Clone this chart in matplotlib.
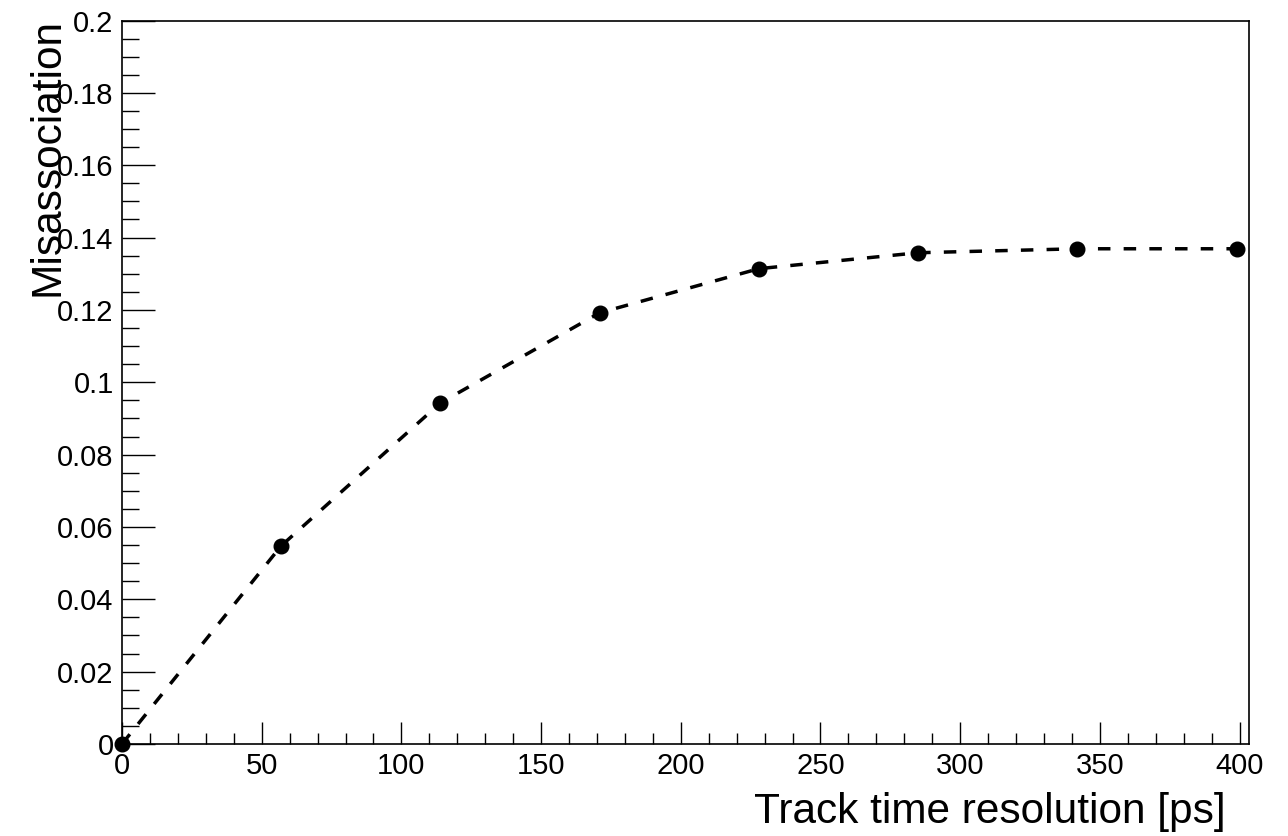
import matplotlib
matplotlib.use("Agg")
import matplotlib.pyplot as plt
from matplotlib.ticker import MultipleLocator, FuncFormatter

# track time resolution [ps] and misassociation fraction
resolution = [0, 57, 114, 171, 228, 285, 342, 399]
misassoc = [0.0, 0.0548, 0.0943, 0.1192, 0.1314, 0.1358, 0.1369, 0.1369]

plt.rcParams['font.family'] = ['Liberation Sans', 'DejaVu Sans']

W, H = 1288, 836
fig = plt.figure(figsize=(W / 100, H / 100), dpi=100)
ax = fig.add_axes([122 / W, 1 - 744 / H, (1249 - 122) / W, (744 - 20.5) / H])

ax.plot(resolution, misassoc, color="black", lw=2.5, dashes=(3.6, 3.8),
        marker="o", ms=10.5, mfc="black", mec="black", clip_on=False, zorder=3)

ax.set_xlim(0, 403.4)
ax.set_ylim(0, 0.2)

ax.xaxis.set_major_locator(MultipleLocator(50))
ax.xaxis.set_minor_locator(MultipleLocator(10))
ax.yaxis.set_major_locator(MultipleLocator(0.02))
ax.yaxis.set_minor_locator(MultipleLocator(0.005))
ax.yaxis.set_major_formatter(FuncFormatter(lambda v, p: "%g" % round(v, 4)))
ax.xaxis.set_major_formatter(FuncFormatter(lambda v, p: "%g" % v))

ax.tick_params(which="both", direction="in", top=False, right=False,
               width=1.0, labelsize=21, color="black")
ax.tick_params(axis="x", which="major", length=16, pad=6)
ax.tick_params(axis="x", which="minor", length=8)
ax.tick_params(axis="y", which="major", length=24, pad=6)
ax.tick_params(axis="y", which="minor", length=12)
for s in ax.spines.values():
    s.set_linewidth(1.2)

fig.text(1226 / W, 1 - 823 / H, "Track time resolution [ps]", fontsize=30.5,
         ha="right", va="baseline")
fig.text(48 / W, 1 - 18 / H, "Misassociation", fontsize=30.5, rotation=90,
         ha="center", va="top")

fig.savefig("out.png", dpi=100)
